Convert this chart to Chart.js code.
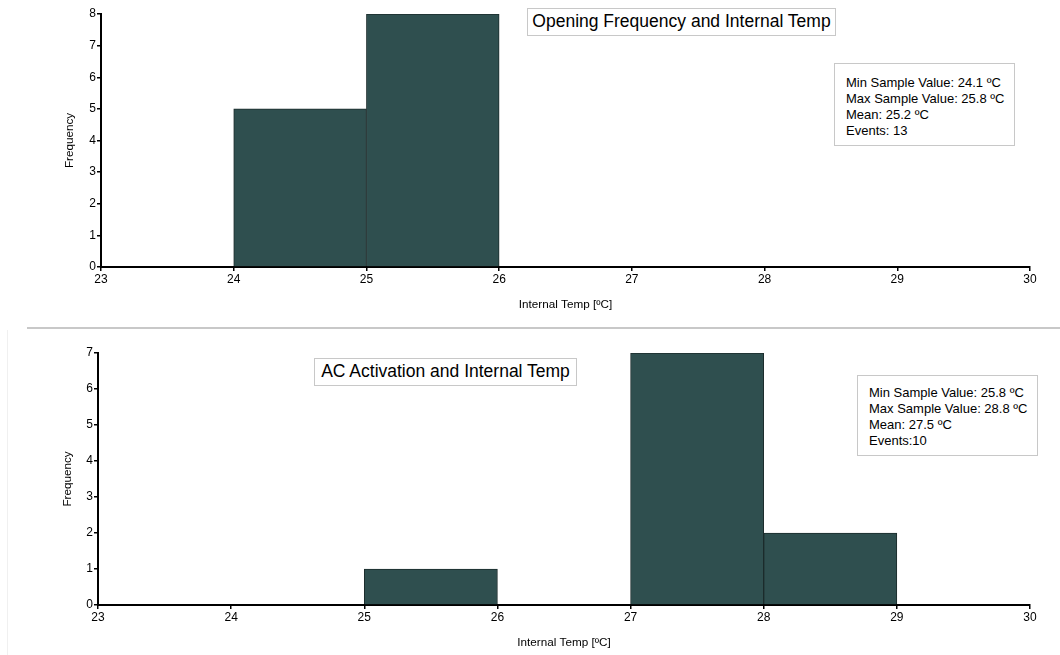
<!DOCTYPE html>
<html>
<head>
<meta charset="utf-8">
<script src="https://cdn.jsdelivr.net/npm/chart.js@4"></script>
<style>
    html, body { margin: 0; padding: 0; background: #fff; }
    body { width: 1060px; height: 655px; position: relative; overflow: hidden;
           font-family: "Liberation Sans", Arial, sans-serif; color: #000; }
    .panel { position: absolute; left: 0; width: 1060px; }
    .title-box { position: absolute; border: 1px solid #c8c8c8; background: #fff;
                 font-size: 17.5px; line-height: 25px; text-align: center; white-space: nowrap; }
    .stats-box { position: absolute; border: 1px solid #c8c8c8; background: #fff;
                 font-size: 13px; line-height: 16px; white-space: nowrap; box-sizing: border-box; }
    #separator { position: absolute; left: 27px; top: 327px; width: 1033px; height: 2px; background: #c8c8c8; }
    #sideline { position: absolute; left: 7px; top: 330px; width: 1px; height: 325px; background: #f0f0f0; }
</style>
</head>
<body>
<div id="panel-top" class="panel" style="top:0;height:320px;">
    <canvas id="openingChart" width="1060" height="320"></canvas>
</div>
<div id="separator"></div>
<div id="sideline"></div>
<div id="panel-bottom" class="panel" style="top:330px;height:325px;">
    <canvas id="acChart" width="1060" height="325"></canvas>
</div>

<div class="title-box" id="openingTitle" style="left:527px;top:8px;width:307px;height:26px;"></div>
<div class="stats-box" id="openingStats" style="left:834px;top:63px;width:181px;height:83px;padding:11px 0 0 11px;"></div>
<div class="title-box" id="acTitle" style="left:314px;top:358px;width:261px;height:26px;"></div>
<div class="stats-box" id="acStats" style="left:857px;top:375px;width:181px;height:81px;padding:9px 0 0 11px;"></div>

<script>
// histogram bins (lower edge, width 1 ºC)
const binStarts = [23, 24, 25, 26, 27, 28, 29];
const openingCounts = [0, 5, 8, 0, 0, 0, 0];
const acCounts = [0, 0, 1, 0, 7, 2, 0];

const xMin = 23;
const xMax = 30;
const xLabel = 'Internal Temp [ºC]';
const yLabel = 'Frequency';

const openingTitle = 'Opening Frequency and Internal Temp';
const openingStats = ['Min Sample Value: 24.1 ºC', 'Max Sample Value: 25.8 ºC', 'Mean: 25.2 ºC', 'Events: 13'];
const acTitle = 'AC Activation and Internal Temp';
const acStats = ['Min Sample Value: 25.8 ºC', 'Max Sample Value: 28.8 ºC', 'Mean: 27.5 ºC', 'Events:10'];

const FONT = '"Liberation Sans", Arial, sans-serif';
const BAR_COLOR = '#2f4f4f';

function fillText(id, title, lines) {
    document.getElementById(id + 'Title').textContent = title;
    const box = document.getElementById(id + 'Stats');
    lines.forEach(line => {
        const div = document.createElement('div');
        div.textContent = line;
        box.appendChild(div);
    });
}

function toPoints(counts) {
    return binStarts
        .map((start, i) => ({ x: start + 0.5, y: counts[i] }))
        .filter(p => p.y > 0);
}

function makeHistogram(canvasId, counts, yMax, layout) {
    const ctx = document.getElementById(canvasId).getContext('2d');
    return new Chart(ctx, {
        type: 'bar',
        data: {
            datasets: [{
                data: toPoints(counts),
                backgroundColor: BAR_COLOR,
                borderColor: '#1c2c2c',
                borderWidth: 1,
                borderSkipped: 'bottom',
                barPercentage: 1,
                categoryPercentage: 1
            }]
        },
        options: {
            responsive: false,
            animation: false,
            events: [],
            layout: { padding: { top: layout.top, right: layout.right, left: 0, bottom: 0 } },
            plugins: { legend: { display: false }, tooltip: { enabled: false } },
            scales: {
                x: {
                    type: 'linear',
                    offset: false,
                    min: xMin,
                    max: xMax,
                    grid: { display: true, drawOnChartArea: false, drawTicks: true, tickLength: 4, color: '#000', lineWidth: 1.5, offset: false },
                    border: { color: '#000', width: 2 },
                    ticks: { stepSize: 1, color: '#000', padding: 1, maxRotation: 0, font: { family: FONT, size: 12 } },
                    title: { display: true, text: xLabel, color: '#000', font: { family: FONT, size: 11.7 }, padding: { top: 0, bottom: layout.xTitlePad } },
                    afterFit: scale => { scale.height = layout.xHeight; }
                },
                y: {
                    min: 0,
                    max: yMax,
                    grid: { display: true, drawOnChartArea: false, drawTicks: true, tickLength: 4, color: '#000', lineWidth: 1.5 },
                    border: { color: '#000', width: 2 },
                    ticks: { stepSize: 1, color: '#000', padding: 1, font: { family: FONT, size: 12 } },
                    title: { display: true, text: yLabel, color: '#000', font: { family: FONT, size: 11.7 }, padding: { top: layout.yTitlePad, bottom: 0 } },
                    afterFit: scale => { scale.width = layout.yWidth; }
                }
            }
        }
    });
}

fillText('opening', openingTitle, openingStats);
fillText('ac', acTitle, acStats);

makeHistogram('openingChart', openingCounts, 8,
    { top: 14, right: 30, yWidth: 101, xHeight: 53, xTitlePad: 8, yTitlePad: 63 });
makeHistogram('acChart', acCounts, 7,
    { top: 23, right: 30, yWidth: 98, xHeight: 50, xTitlePad: 5, yTitlePad: 61 });
</script>
</body>
</html>
